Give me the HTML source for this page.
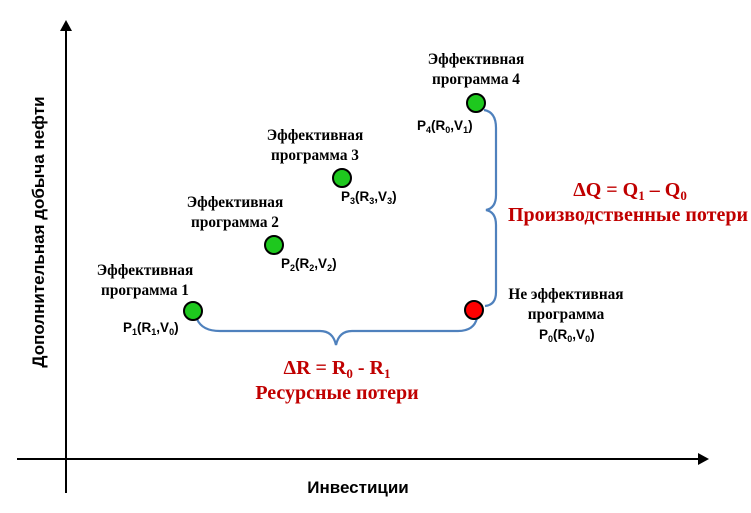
<!DOCTYPE html>
<html><head><meta charset="utf-8"><style>
html,body{margin:0;padding:0;background:#fff;}
svg{display:block;}
.s{font-family:"Liberation Serif","Noto Serif CJK SC",serif;font-weight:bold;font-size:15.3px;fill:#000;}
.p{font-family:"Liberation Sans","DejaVu Sans",sans-serif;font-weight:bold;font-size:13.5px;fill:#000;}
.r{font-family:"Liberation Serif",serif;font-weight:bold;font-size:20px;fill:#c00000;}
.a{font-family:"Liberation Sans","DejaVu Sans",sans-serif;font-weight:bold;font-size:17px;fill:#000;}
</style></head><body>
<svg width="751" height="513" viewBox="0 0 751 513" xmlns="http://www.w3.org/2000/svg">
<line x1="66" y1="493" x2="66" y2="30" stroke="#000" stroke-width="2"/>
<polygon points="66,20 60,31 72,31" fill="#000"/>
<line x1="17" y1="459" x2="698" y2="459" stroke="#000" stroke-width="2"/>
<polygon points="709,459 698,453 698,465" fill="#000"/>
<path d="M197,319 Q202,331 220,331 L320,331 Q333,331 336,345 Q339,331 352,331 L458,331 Q474,331 477,318" fill="none" stroke="#4f81bd" stroke-width="2.2"/>
<path d="M484,110 Q496,112 496,128 L496,195 Q496,208 486,210 Q496,212 496,225 L496,292 Q496,305 485,306" fill="none" stroke="#4f81bd" stroke-width="2.2"/>
<g stroke="#000" stroke-width="2">
<circle cx="193" cy="311" r="9" fill="#1ec81e"/>
<circle cx="274" cy="245" r="9" fill="#1ec81e"/>
<circle cx="342" cy="178" r="9" fill="#1ec81e"/>
<circle cx="476" cy="103" r="9" fill="#1ec81e"/>
<circle cx="474" cy="310" r="9" fill="#ff0000"/>
</g>
<g class="s" text-anchor="middle">
<text x="145" y="275">Эффективная</text><text x="145" y="295">программа 1</text>
<text x="235" y="207">Эффективная</text><text x="235" y="227">программа 2</text>
<text x="315" y="140">Эффективная</text><text x="315" y="160">программа 3</text>
<text x="476" y="64">Эффективная</text><text x="476" y="84">программа 4</text>
<text x="566" y="299">Не эффективная</text><text x="566" y="319">программа</text>
</g>
<g class="p">
<text x="123" y="332">P<tspan font-size="9" dy="3">1</tspan><tspan dy="-3">(R</tspan><tspan font-size="9" dy="3">1</tspan><tspan dy="-3">,V</tspan><tspan font-size="9" dy="3">0</tspan><tspan dy="-3">)</tspan></text>
<text x="281" y="268">P<tspan font-size="9" dy="3">2</tspan><tspan dy="-3">(R</tspan><tspan font-size="9" dy="3">2</tspan><tspan dy="-3">,V</tspan><tspan font-size="9" dy="3">2</tspan><tspan dy="-3">)</tspan></text>
<text x="341" y="201">P<tspan font-size="9" dy="3">3</tspan><tspan dy="-3">(R</tspan><tspan font-size="9" dy="3">3</tspan><tspan dy="-3">,V</tspan><tspan font-size="9" dy="3">3</tspan><tspan dy="-3">)</tspan></text>
<text x="417" y="130">P<tspan font-size="9" dy="3">4</tspan><tspan dy="-3">(R</tspan><tspan font-size="9" dy="3">0</tspan><tspan dy="-3">,V</tspan><tspan font-size="9" dy="3">1</tspan><tspan dy="-3">)</tspan></text>
<text x="539" y="339">P<tspan font-size="9" dy="3">0</tspan><tspan dy="-3">(R</tspan><tspan font-size="9" dy="3">0</tspan><tspan dy="-3">,V</tspan><tspan font-size="9" dy="3">0</tspan><tspan dy="-3">)</tspan></text>
</g>
<g class="r" text-anchor="middle">
<text x="337" y="374">ΔR = R<tspan font-size="13" dy="4">0</tspan><tspan dy="-4"> - R</tspan><tspan font-size="13" dy="4">1</tspan></text>
<text x="337" y="399">Ресурсные потери</text>
<text x="630" y="196">ΔQ = Q<tspan font-size="13" dy="4">1</tspan><tspan dy="-4"> – Q</tspan><tspan font-size="13" dy="4">0</tspan></text>
<text x="628" y="221">Производственные потери</text>
</g>
<text class="a" x="358" y="493" text-anchor="middle">Инвестиции</text>
<text class="a" transform="translate(44,232) rotate(-90)" text-anchor="middle">Дополнительная добыча нефти</text>
</svg>
</body></html>
